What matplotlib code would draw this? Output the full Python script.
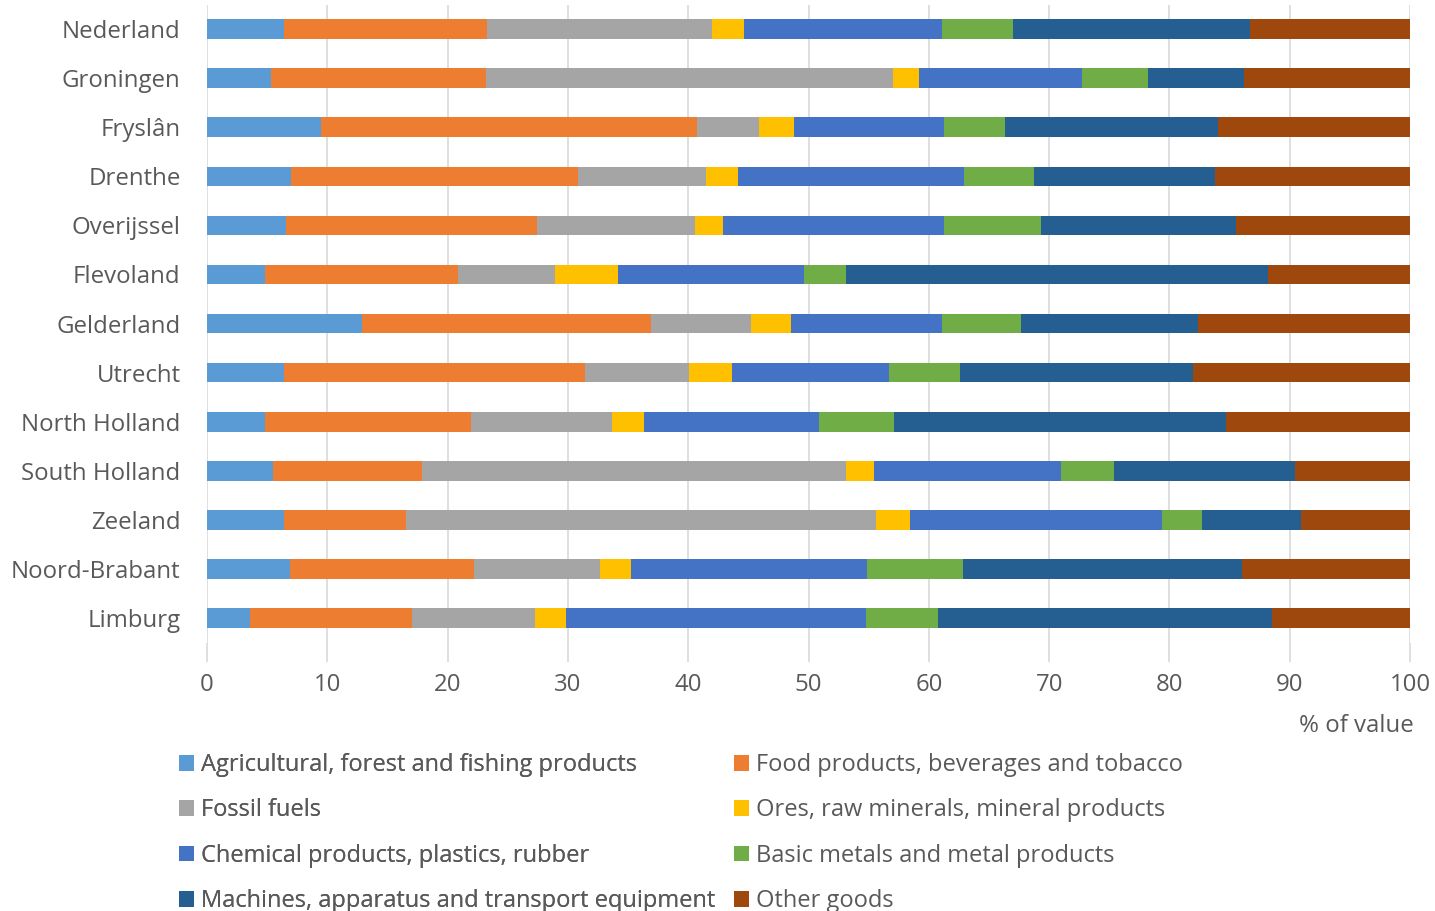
import matplotlib.pyplot as plt
import numpy as np

plt.rcParams['font.family'] = ['Open Sans', 'DejaVu Sans']

regions = ['Nederland', 'Groningen', 'Fryslân', 'Drenthe', 'Overijssel', 'Flevoland',
           'Gelderland', 'Utrecht', 'North Holland', 'South Holland', 'Zeeland',
           'Noord-Brabant', 'Limburg']

agri = [6.4, 5.3, 9.5, 7.0, 6.6, 4.8, 12.9, 6.4, 4.8, 5.5, 6.4, 6.9, 3.6]
food = [16.9, 17.9, 31.2, 23.8, 20.8, 16.1, 24.0, 25.0, 17.1, 12.4, 10.1, 15.3, 13.4]
fossil = [18.7, 33.8, 5.2, 10.7, 13.2, 8.0, 8.3, 8.7, 11.8, 35.2, 39.1, 10.5, 10.3]
ores = [2.6, 2.2, 2.9, 2.6, 2.3, 5.3, 3.3, 3.5, 2.6, 2.3, 2.8, 2.5, 2.5]
chem = [16.5, 13.5, 12.5, 18.8, 18.4, 15.4, 12.6, 13.1, 14.6, 15.6, 21.0, 19.7, 25.0]
metals = [5.9, 5.5, 5.0, 5.8, 8.0, 3.5, 6.6, 5.9, 6.2, 4.4, 3.3, 7.9, 6.0]
machines = [19.7, 8.0, 17.7, 15.1, 16.2, 35.1, 14.7, 19.4, 27.6, 15.0, 8.2, 23.2, 27.7]
other = [13.3, 13.8, 16.0, 16.2, 14.5, 11.8, 17.6, 18.0, 15.3, 9.6, 9.1, 14.0, 11.5]

series = [
    ('Agricultural, forest and fishing products', agri, '#5B9BD5'),
    ('Food products, beverages and tobacco', food, '#ED7D31'),
    ('Fossil fuels', fossil, '#A5A5A5'),
    ('Ores, raw minerals, mineral products', ores, '#FFC000'),
    ('Chemical products, plastics, rubber', chem, '#4472C4'),
    ('Basic metals and metal products', metals, '#70AD47'),
    ('Machines, apparatus and transport equipment', machines, '#255E91'),
    ('Other goods', other, '#9E480E'),
]

FS = 17.3
TXT = '#595959'

fig = plt.figure(figsize=(14.35, 9.11), dpi=100)
ax = fig.add_axes([0.1443, 0.2947, 0.8383, 0.7003])

y = np.arange(len(regions))
left = np.zeros(len(regions))
handles = []
for name, vals, col in series:
    vals = np.array(vals, dtype=float)
    h = ax.barh(y, vals, left=left, height=0.4, color=col, label=name, zorder=3)
    handles.append(h)
    left += vals

ax.set_ylim(len(regions) - 0.5, -0.5)
ax.set_xlim(0, 100)
ax.set_xticks(np.arange(0, 101, 10))
ax.set_yticks(y)
ax.set_yticklabels(regions)
ax.grid(axis='x', color='#D9D9D9', linewidth=1.2, zorder=0)
for s in ax.spines.values():
    s.set_visible(False)
ax.tick_params(axis='x', length=14, color='#D9D9D9', width=1.2, labelsize=FS,
               labelcolor=TXT, pad=8)
ax.tick_params(axis='y', length=0, labelsize=FS, labelcolor=TXT, pad=19)

fig.text(0.985, 0.203, '% of value', ha='right', va='center', fontsize=FS, color=TXT)

# legend: two columns, filled row by row
leg_kw = dict(loc='upper left', frameon=False, fontsize=17, labelcolor=TXT,
              handlelength=0.64, handleheight=0.64, handletextpad=0.3,
              labelspacing=0.91, borderpad=0, borderaxespad=0)
leg1 = fig.legend(handles=handles[0::2], bbox_to_anchor=(179 / 1435, 1 - 753 / 911), **leg_kw)
fig.add_artist(leg1)
fig.legend(handles=handles[1::2], bbox_to_anchor=(734 / 1435, 1 - 753 / 911), **leg_kw)

fig.savefig('out.png', dpi=100)
